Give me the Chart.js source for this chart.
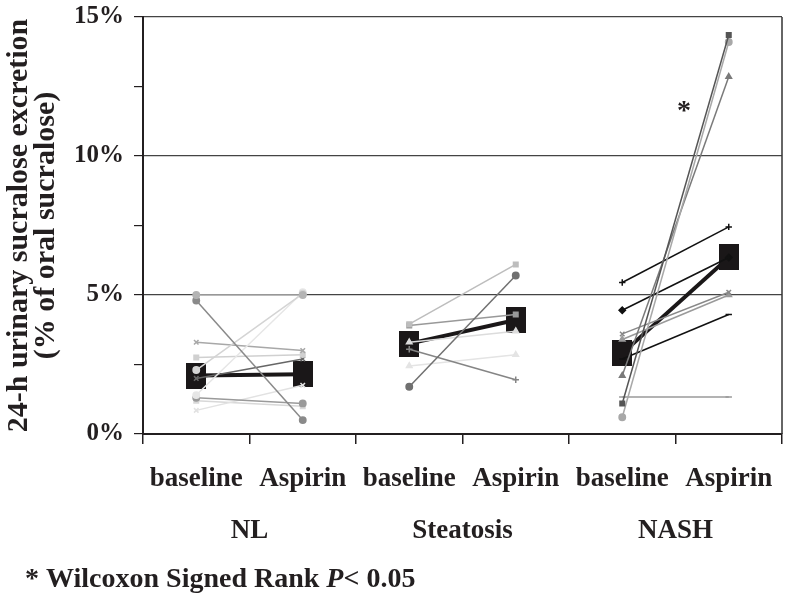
<!DOCTYPE html>
<html>
<head>
<meta charset="utf-8">
<script src="https://cdn.jsdelivr.net/npm/chart.js@4.4.1/dist/chart.umd.min.js"></script>
<style>
  html, body { margin: 0; padding: 0; background: #fff; }
  #wrap { width: 800px; height: 603px; }
</style>
</head>
<body>
<div id="wrap"><canvas id="chart" width="800" height="603"></canvas></div>
<script>
// categories
const conditions = ['baseline', 'Aspirin', 'baseline', 'Aspirin', 'baseline', 'Aspirin'];
const groups = ['NL', 'Steatosis', 'NASH'];
const yTicks = [0, 5, 10, 15];

// individual subjects (% of oral sucralose)
const nlBaseline = [5.0, 4.8, 2.3, 1.4, 3.3, 2.75, 2.0, 1.3, 0.85, 1.2];
const nlAspirin  = [5.0, 0.5, 5.05, 5.1, 3.0, 2.85, 2.7, 1.1, 1.75, 1.0];
const stBaseline = [3.95, 1.7, 3.9, 3.05, 2.45, 3.3];
const stAspirin  = [6.1, 5.7, 4.3, 1.95, 2.85, 3.7];
const nashBaseline = [1.1, 0.6, 2.1, 5.45, 4.45, 3.6, 3.4, 2.7, 1.33];
const nashAspirin  = [14.35, 14.1, 12.85, 7.45, 6.35, 5.1, 5.0, 4.3, 1.33];

// group means
const meanBaseline = [2.1, 3.25, 2.9];
const meanAspirin  = [2.15, 4.1, 6.35];

// styling for each subject line
const nlColors = ['#b4b4b4', '#8a8a8a', '#d4d4d4', '#e6e6e6', '#a8a8a8', '#d0d0d0', '#666', '#9a9a9a', '#e2e2e2', '#d8d8d8'];
const nlMarkers = ['circle', 'circle', 'circle', 'circle', 'crossRot', 'rect', 'crossRot', 'circle', 'crossRot', 'rect'];
const stColors = ['#bdbdbd', '#707070', '#999', '#858585', '#e4e4e4', '#dcdcdc'];
const stMarkers = ['rect', 'circle', 'rect', 'cross', 'triangle', 'triangle'];
const nashColors = ['#555', '#a8a8a8', '#7a7a7a', '#111', '#111', '#888', '#9a9a9a', '#111', '#9a9a9a'];
const nashMarkers = ['rect', 'circle', 'triangle', 'cross', 'rectRot', 'crossRot', 'triangle', 'line', 'line'];

const serif = '"Liberation Serif", "Times New Roman", serif';
const ink = '#231f20';

function pairData(groupIndex, a, b) {
    const arr = [null, null, null, null, null, null];
    arr[groupIndex * 2] = a;
    arr[groupIndex * 2 + 1] = b;
    return arr;
}

const datasets = [];
function addSubjects(groupIndex, base, asp, colors, markers) {
    base.forEach((v, i) => {
        datasets.push({
            data: pairData(groupIndex, v, asp[i]),
            borderColor: colors[i],
            backgroundColor: colors[i],
            borderWidth: 1.5,
            pointStyle: markers[i],
            pointRadius: 3.2,
            pointBorderWidth: 1.5,
            spanGaps: false
        });
    });
}
addSubjects(0, nlBaseline, nlAspirin, nlColors, nlMarkers);
addSubjects(1, stBaseline, stAspirin, stColors, stMarkers);
addSubjects(2, nashBaseline, nashAspirin, nashColors, nashMarkers);

// big mean marker, a bit taller than wide like the original
const meanMarker = document.createElement('canvas');
meanMarker.width = 20;
meanMarker.height = 26;
const mctx = meanMarker.getContext('2d');
mctx.fillStyle = '#1a1718';
mctx.fillRect(0, 0, 20, 26);

groups.forEach((g, i) => {
    datasets.push({
        data: pairData(i, meanBaseline[i], meanAspirin[i]),
        borderColor: '#1a1718',
        backgroundColor: '#1a1718',
        borderWidth: 4,
        pointStyle: meanMarker,
        pointRadius: 13
    });
});

// frame on the right, asterisk and footnote
const extras = {
    id: 'extras',
    afterDraw(chart) {
        const ctx = chart.ctx;
        const area = chart.chartArea;
        const xs = chart.scales.x;
        const ys = chart.scales.y;
        ctx.save();
        ctx.strokeStyle = '#333';
        ctx.lineWidth = 1.5;
        ctx.beginPath();
        ctx.moveTo(area.right, area.top);
        ctx.lineTo(area.right, area.bottom);
        ctx.stroke();

        ctx.fillStyle = ink;
        ctx.textAlign = 'center';
        ctx.textBaseline = 'middle';
        ctx.font = 'bold 28px ' + serif;
        ctx.fillText('*', xs.getPixelForValue(4.58), ys.getPixelForValue(11.6));

        ctx.textAlign = 'left';
        ctx.textBaseline = 'alphabetic';
        let x = 25;
        const y = 587;
        const parts = [
            ['* Wilcoxon Signed Rank ', 'bold 28px '],
            ['P', 'italic bold 28px '],
            ['< 0.05', 'bold 28px ']
        ];
        parts.forEach(p => {
            ctx.font = p[1] + serif;
            ctx.fillText(p[0], x, y);
            x += ctx.measureText(p[0]).width;
        });
        ctx.restore();
    }
};

new Chart(document.getElementById('chart'), {
    type: 'line',
    data: { labels: conditions, datasets: datasets },
    options: {
        responsive: false,
        animation: false,
        layout: { padding: { left: 6, right: 18, top: 17, bottom: 55 } },
        plugins: {
            legend: { display: false },
            tooltip: { enabled: false }
        },
        scales: {
            x: {
                type: 'category',
                offset: true,
                weight: 0,
                afterFit: s => { s.height = 62; },
                grid: {
                    offset: true,
                    drawOnChartArea: false,
                    color: ink,
                    tickLength: 10,
                    lineWidth: 1.5
                },
                border: { color: ink, width: 2 },
                ticks: {
                    color: ink,
                    padding: 19,
                    maxRotation: 0,
                    font: { family: serif, size: 27, weight: 'bold' }
                }
            },
            x2: {
                type: 'category',
                labels: groups,
                position: 'bottom',
                offset: true,
                weight: 1,
                afterFit: s => { s.height = 52; },
                grid: { display: false, drawTicks: false },
                border: { display: false },
                ticks: {
                    color: ink,
                    padding: 19,
                    maxRotation: 0,
                    font: { family: serif, size: 27, weight: 'bold' }
                }
            },
            y: {
                min: 0,
                max: 15,
                afterFit: s => {
                    s.width = 137;
                    s.paddingTop = 0;
                    s.paddingBottom = 0;
                },
                ticks: {
                    stepSize: 2.5,
                    color: ink,
                    padding: 10,
                    font: { family: serif, size: 25, weight: 'bold' },
                    callback: v => yTicks.includes(v) ? v + '%' : ''
                },
                grid: {
                    color: c => (c.tick && c.tick.value > 0 && c.tick.value % 5 === 0) ? '#444' : 'rgba(0,0,0,0)',
                    tickColor: ink,
                    tickLength: 9,
                    lineWidth: 1.2
                },
                border: { color: ink, width: 2 },
                title: {
                    display: true,
                    text: ['24-h urinary sucralose excretion', '(% of oral sucralose)'],
                    color: ink,
                    padding: { top: 0, bottom: 4 },
                    font: { family: serif, size: 30, weight: 'bold', lineHeight: 0.9 }
                }
            }
        }
    },
    plugins: [extras]
});
</script>
</body>
</html>
